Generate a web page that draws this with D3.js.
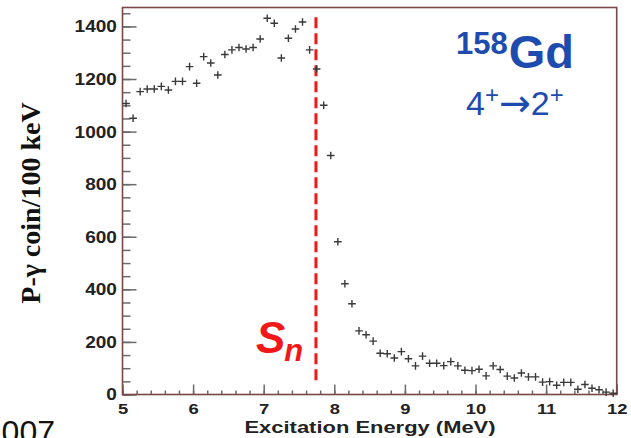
<!DOCTYPE html>
<html lang="en">
<head>
    <meta charset="UTF-8">
    <title>158Gd P-gamma coincidences</title>
    <script type="text/javascript" src="https://cdn.jsdelivr.net/npm/d3@7"></script>
    <style>
        body {
            margin: 0;
            background: white;
        }

        .axis path {
            display: none;
        }

        .axis line {
            stroke: #6b6b6b;
            stroke-width: 1.5px;
        }

        .axis text {
            font-family: "Liberation Sans", Arial, sans-serif;
            font-weight: bold;
            fill: #222;
        }
    </style>
</head>
<body>
<script type="text/javascript">
    var w = 631;
    var h = 438;

    // bin centres (MeV), 100 keV bins
    var energies = [
        5.05, 5.15, 5.25, 5.35, 5.45, 5.55, 5.65, 5.75, 5.85, 5.95,
        6.05, 6.15, 6.25, 6.35, 6.45, 6.55, 6.65, 6.75, 6.85, 6.95,
        7.05, 7.15, 7.25, 7.35, 7.45, 7.55, 7.65, 7.75, 7.85, 7.95,
        8.05, 8.15, 8.25, 8.35, 8.45, 8.55, 8.65, 8.75, 8.85, 8.95,
        9.05, 9.15, 9.25, 9.35, 9.45, 9.55, 9.65, 9.75, 9.85, 9.95,
        10.05, 10.15, 10.25, 10.35, 10.45, 10.55, 10.65, 10.75, 10.85, 10.95,
        11.05, 11.15, 11.25, 11.35, 11.45, 11.55, 11.65, 11.75, 11.85, 11.95
    ];

    var counts = [
        1107, 1051, 1152, 1162, 1162, 1172, 1158, 1191, 1191, 1247,
        1184, 1285, 1261, 1215, 1293, 1311, 1320, 1314, 1320, 1352,
        1431, 1412, 1280, 1355, 1390, 1417, 1311, 1238, 1100, 909,
        581, 421, 345, 242, 227, 203, 157, 155, 139, 163,
        136, 109, 146, 119, 119, 110, 125, 109, 92, 91,
        96, 71, 109, 95, 70, 63, 82, 67, 67, 47,
        49, 35, 46, 46, 20, 38, 24, 18, 9, 5
    ];

    var xTicks = [5, 6, 7, 8, 9, 10, 11, 12];
    var yTicks = [0, 200, 400, 600, 800, 1000, 1200, 1400];

    var xDomain = [5, 12];
    var yDomain = [0, 1472];

    // neutron separation energy marker
    var snEnergy = 7.74;
    var snRange = [48, 1435];

    var xScale = d3.scaleLinear()
        .domain(xDomain)
        .range([122.5, 616.7]);

    var yScale = d3.scaleLinear()
        .domain(yDomain)
        .range([394.5, 7.5]);

    var svg = d3.select("body")
        .append("svg")
        .attr("width", w)
        .attr("height", h);

    // minor ticks
    var xMinor = d3.range(50, 121, 2).map(function (d) { return d / 10; });
    var yMinor = d3.range(0, 1451, 50);

    svg.append("g")
        .attr("class", "axis")
        .attr("transform", "translate(0," + yScale(0) + ")")
        .call(d3.axisBottom(xScale).tickValues(xMinor).tickSize(-4).tickFormat(""));

    svg.append("g")
        .attr("class", "axis")
        .attr("transform", "translate(" + xScale(5) + ",0)")
        .call(d3.axisLeft(yScale).tickValues(yMinor).tickSize(-8).tickFormat(""));

    // major ticks with labels
    var xAxis = svg.append("g")
        .attr("class", "axis")
        .attr("transform", "translate(0," + yScale(0) + ")")
        .call(d3.axisBottom(xScale)
            .tickValues(xTicks)
            .tickSize(-10)
            .tickPadding(11)
            .tickFormat(d3.format("d")));

    xAxis.selectAll("text")
        .attr("font-size", "16px")
        .attr("transform", "scale(1.15,0.86)");

    var yAxis = svg.append("g")
        .attr("class", "axis")
        .attr("transform", "translate(" + xScale(5) + ",0)")
        .call(d3.axisLeft(yScale)
            .tickValues(yTicks)
            .tickSize(-14)
            .tickPadding(5)
            .tickFormat(d3.format("d")));

    yAxis.selectAll("text")
        .attr("font-size", "17px")
        .attr("transform", "scale(1.12,1)");

    // frame
    svg.append("rect")
        .attr("x", xScale(5))
        .attr("y", yScale(yDomain[1]))
        .attr("width", xScale(12) - xScale(5))
        .attr("height", yScale(0) - yScale(yDomain[1]))
        .attr("fill", "none")
        .attr("stroke", "#7a4848")
        .attr("stroke-width", 1.6);

    // Sn line
    svg.append("line")
        .attr("x1", xScale(snEnergy))
        .attr("x2", xScale(snEnergy))
        .attr("y1", yScale(snRange[1]))
        .attr("y2", yScale(snRange[0]))
        .attr("stroke", "#f01818")
        .attr("stroke-width", 3)
        .attr("stroke-dasharray", "11,5");

    // data points as crosses
    var pts = energies.map(function (e, i) {
        return [e, counts[i]];
    });

    svg.selectAll("path.pt")
        .data(pts)
        .enter()
        .append("path")
        .attr("class", "pt")
        .attr("d", "M-3.8,0H3.8M0,-3.8V3.8")
        .attr("transform", function (d) {
            return "translate(" + xScale(d[0]) + "," + yScale(d[1]) + ")";
        })
        .attr("stroke", "#3a3a3a")
        .attr("stroke-width", 1.4)
        .attr("fill", "none");

    // axis titles
    svg.append("text")
        .attr("transform", "translate(370,433) scale(1.33,1)")
        .attr("text-anchor", "middle")
        .attr("font-family", "Liberation Sans, Arial, sans-serif")
        .attr("font-weight", "bold")
        .attr("font-size", "16.5px")
        .attr("fill", "#222")
        .text("Excitation Energy (MeV)");

    svg.append("text")
        .attr("transform", "translate(40,203) rotate(-90)")
        .attr("text-anchor", "middle")
        .attr("font-family", "Liberation Serif, Times New Roman, serif")
        .attr("font-weight", "bold")
        .attr("font-size", "28px")
        .attr("fill", "#111")
        .text("P-\u03b3 coin/100 keV");

    // Sn label
    var sn = svg.append("text")
        .attr("x", 256)
        .attr("y", 353)
        .attr("font-family", "Liberation Sans, Arial, sans-serif")
        .attr("font-weight", "bold")
        .attr("font-style", "italic")
        .attr("fill", "#f01818");
    sn.append("tspan").attr("font-size", "44px").text("S");
    sn.append("tspan").attr("font-size", "31px").attr("dy", 8).attr("dx", -1).text("n");

    // nucleus label
    var nuc = svg.append("text")
        .attr("x", 456)
        .attr("y", 54)
        .attr("font-family", "Liberation Sans, Arial, sans-serif")
        .attr("font-weight", "bold")
        .attr("fill", "#1d4cae");
    nuc.append("tspan").attr("font-size", "31px").text("158");
    nuc.append("tspan").attr("font-size", "47px").attr("dy", 14).attr("dx", 1).text("Gd");

    var tr = svg.append("text")
        .attr("x", 466)
        .attr("y", 115)
        .attr("font-family", "Liberation Sans, Arial, sans-serif")
        .attr("fill", "#1d4cae");
    tr.append("tspan").attr("font-size", "34px").text("4");
    tr.append("tspan").attr("font-size", "24px").attr("dy", -12).text("+");
    tr.append("tspan")
        .attr("font-size", "38px")
        .attr("font-family", "DejaVu Sans, sans-serif")
        .attr("dy", 13)
        .text("\u2192");
    tr.append("tspan").attr("font-size", "34px").attr("dy", -1).text("2");
    tr.append("tspan").attr("font-size", "24px").attr("dy", -12).text("+");

    // cut-off year at bottom left
    svg.append("text")
        .attr("x", 55)
        .attr("y", 443)
        .attr("text-anchor", "end")
        .attr("font-family", "Liberation Sans, Arial, sans-serif")
        .attr("font-size", "32px")
        .attr("fill", "#111")
        .text("2007");
</script>
</body>
</html>
